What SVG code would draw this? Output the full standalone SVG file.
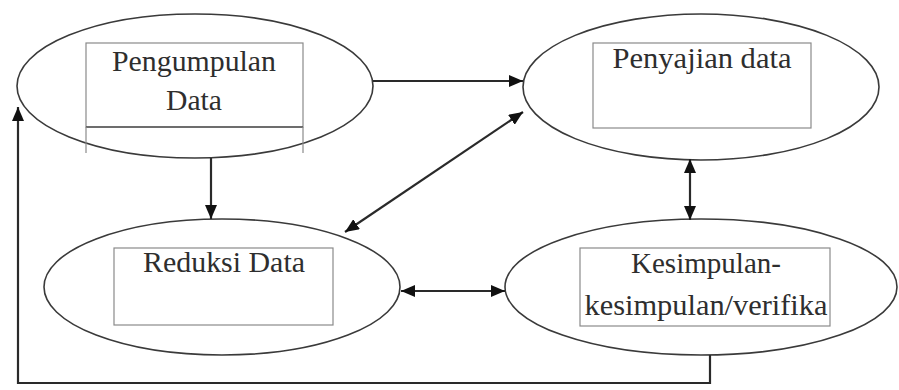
<svg xmlns="http://www.w3.org/2000/svg" width="899" height="390" viewBox="0 0 899 390">
<style>
.oval{fill:none;stroke:#3a3a3a;stroke-width:1.6}
.box{fill:none;stroke:#8a8a8a;stroke-width:1.2}
.lbl{font-size:29px;fill:#2e2e2e;text-anchor:middle}
.con{fill:none;stroke:#2a2a2a;stroke-width:2.2}
</style>
<defs>
<marker id="ah" viewBox="0 0 14 12" refX="14" refY="6" markerWidth="14" markerHeight="12" markerUnits="userSpaceOnUse" orient="auto-start-reverse">
<path d="M0,0 L14,6 L0,12 z" fill="#111"/>
</marker>
</defs>
<rect width="899" height="390" fill="#fff"/>
<g font-family="Liberation Serif, serif">
<g id="pengumpulan">
<ellipse class="oval" cx="195" cy="86" rx="178" ry="72"/>
<rect class="box" x="86" y="43" width="217" height="84"/>
<line class="box" x1="86" y1="127" x2="303" y2="127" style="stroke:#555;stroke-width:1.6"/>
<line class="box" x1="86" y1="127" x2="86" y2="153"/>
<line class="box" x1="303" y1="127" x2="303" y2="153"/>
<text class="lbl" x="194" y="71" textLength="164" lengthAdjust="spacingAndGlyphs">Pengumpulan</text>
<text class="lbl" x="194" y="110" textLength="56" lengthAdjust="spacingAndGlyphs">Data</text>
</g>
<g id="penyajian">
<ellipse class="oval" cx="701" cy="87" rx="178" ry="73"/>
<rect class="box" x="593" y="43" width="218" height="85"/>
<text class="lbl" x="702" y="68" textLength="179" lengthAdjust="spacingAndGlyphs">Penyajian data</text>
</g>
<g id="reduksi">
<ellipse class="oval" cx="222" cy="287" rx="178" ry="68"/>
<rect class="box" x="114" y="248" width="219" height="77"/>
<text class="lbl" x="224" y="272" textLength="162" lengthAdjust="spacingAndGlyphs">Reduksi Data</text>
</g>
<g id="kesimpulan">
<ellipse class="oval" cx="701" cy="287" rx="196" ry="68"/>
<rect class="box" x="580" y="248" width="250" height="78"/>
<text class="lbl" x="706" y="273" textLength="150" lengthAdjust="spacingAndGlyphs">Kesimpulan-</text>
<text class="lbl" x="706" y="315" textLength="243" lengthAdjust="spacingAndGlyphs">kesimpulan/verifika</text>
</g>
</g>
<g id="connectors">
<line class="con" x1="373" y1="81" x2="523" y2="81" marker-end="url(#ah)"/>
<line class="con" x1="345" y1="232" x2="523" y2="112" marker-start="url(#ah)" marker-end="url(#ah)"/>
<line class="con" x1="211" y1="158" x2="211" y2="219" marker-end="url(#ah)"/>
<line class="con" x1="690" y1="159" x2="690" y2="220" marker-start="url(#ah)" marker-end="url(#ah)"/>
<line class="con" x1="401" y1="291" x2="505" y2="291" marker-start="url(#ah)" marker-end="url(#ah)"/>
<polyline class="con" points="710,355 710,383 18,383 18,107" marker-end="url(#ah)"/>
</g>
</svg>
